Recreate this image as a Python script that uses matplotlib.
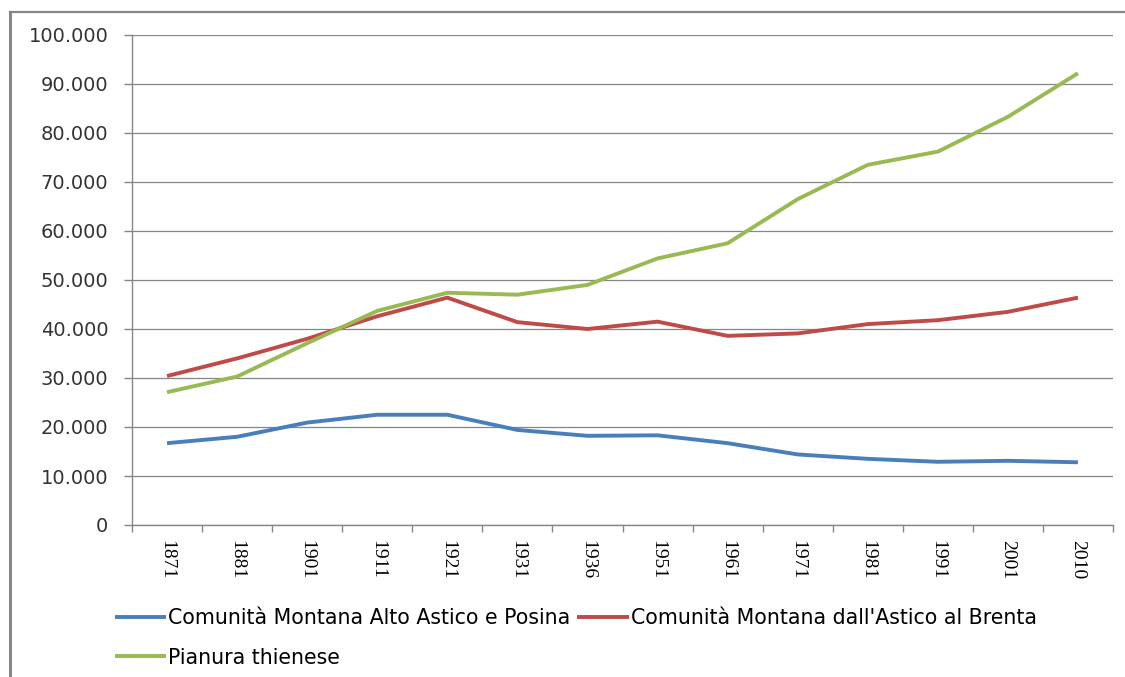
import matplotlib
matplotlib.use('Agg')
import matplotlib.pyplot as plt
from matplotlib.ticker import FuncFormatter, FixedLocator
from matplotlib.lines import Line2D

# popolazione residente per censimento
anni = ['1871', '1881', '1901', '1911', '1921', '1931', '1936',
        '1951', '1961', '1971', '1981', '1991', '2001', '2010']
alto_astico = [16700, 18000, 20900, 22500, 22500, 19400, 18200,
               18300, 16700, 14400, 13500, 12900, 13100, 12800]
astico_brenta = [30400, 34000, 38000, 42600, 46400, 41400, 40000,
                 41500, 38600, 39100, 41000, 41800, 43500, 46400]
thienese = [27100, 30300, 37100, 43700, 47400, 47000, 49000,
            54400, 57500, 66500, 73500, 76200, 83300, 92200]

nomi = ['Comunità Montana Alto Astico e Posina',
        "Comunità Montana dall'Astico al Brenta",
        'Pianura thienese']
colori = ['#4a7ebb', '#be4b48', '#98b954']

fig = plt.figure(figsize=(11.25, 6.77), dpi=100)
ax = fig.add_axes([132/1125, 1-525/677, 981/1125, 490/677])

x = list(range(len(anni)))
linee = []
for serie, nome, col in zip([alto_astico, astico_brenta, thienese], nomi, colori):
    l, = ax.plot(x, serie, color=col, lw=2.8, label=nome, solid_capstyle='butt')
    linee.append(l)

grigio = '#868686'
ax.set_ylim(0, 100000)
ax.set_xlim(-0.5, len(anni) - 0.5)
ax.set_yticks(range(0, 100001, 10000))
ax.yaxis.set_major_formatter(FuncFormatter(lambda v, p: f'{int(v):,}'.replace(',', '.')))
ax.grid(axis='y', color=grigio, lw=0.9)
ax.set_axisbelow(True)

ax.set_xticks(x)
ax.set_xticklabels(anni, rotation=-90, family='Liberation Serif', fontsize=14)
ax.xaxis.set_minor_locator(FixedLocator([i - 0.5 for i in range(len(anni) + 1)]))
ax.tick_params(axis='x', which='major', length=0, pad=11)
ax.tick_params(axis='x', which='minor', length=5, color=grigio, width=1)
ax.tick_params(axis='y', length=6, color=grigio, width=1, pad=11, labelsize=14)
for lab in ax.get_yticklabels():
    lab.set_color('#333333')

for s in ['top', 'right']:
    ax.spines[s].set_visible(False)
for s in ['left', 'bottom']:
    ax.spines[s].set_color(grigio)
    ax.spines[s].set_linewidth(1)

# ordine per avere due voci nella prima riga e una nella seconda
ordine = [linee[0], linee[2], linee[1]]
fig.legend(ordine, [l.get_label() for l in ordine], ncol=2, frameon=False,
           loc='upper left', bbox_to_anchor=(115/1125, 1-608/677),
           borderpad=0, borderaxespad=0, handlelength=2.5, handletextpad=0.08,
           columnspacing=0.35, labelspacing=0.95,
           prop={'family': 'DejaVu Sans', 'size': 14.8})

# cornice grigia dell'area del grafico
fig.add_artist(Line2D([10/1125, 10/1125], [0, 1-12/677], color=grigio, lw=2.2,
                      transform=fig.transFigure))
fig.add_artist(Line2D([10/1125, 1], [1-12/677, 1-12/677], color=grigio, lw=1.6,
                      transform=fig.transFigure))

fig.savefig('out.png', dpi=100)
